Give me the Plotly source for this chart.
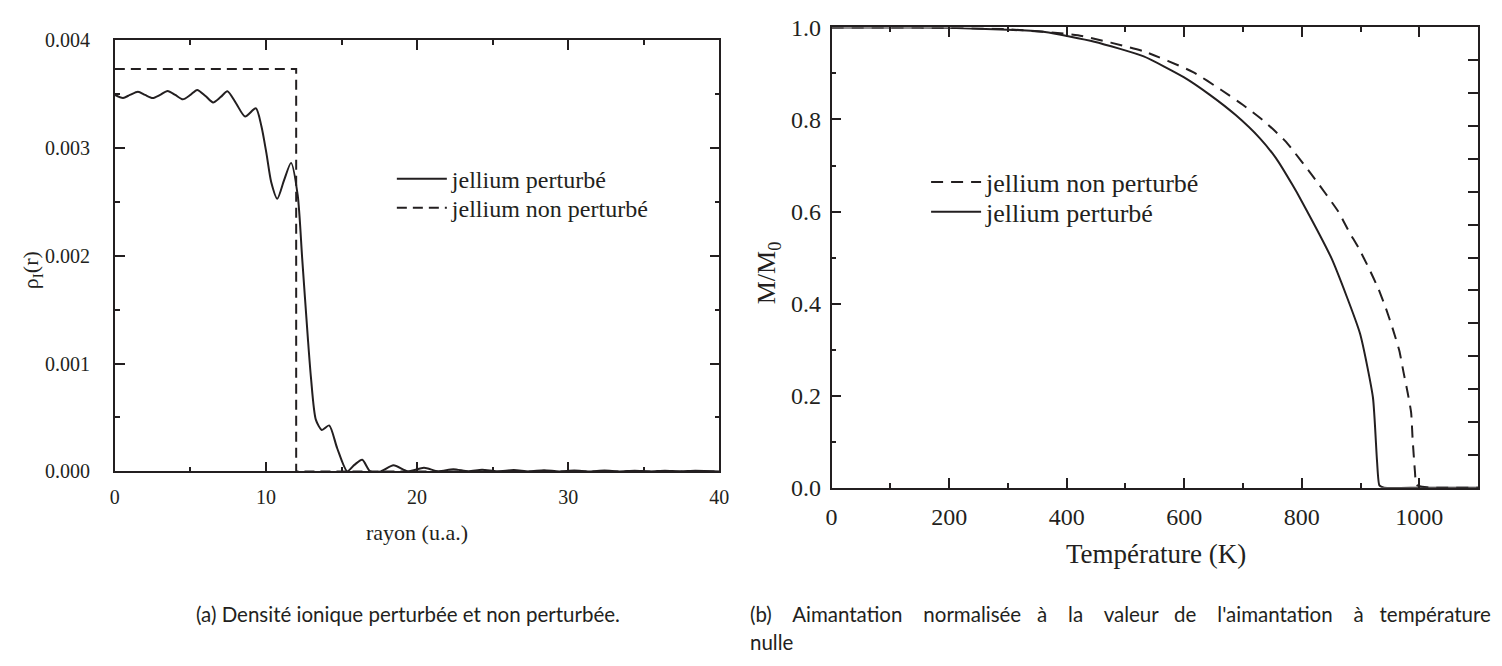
import plotly.graph_objects as go

# ---------------- data ----------------
# (a) ionic density vs radius
r_pert = [0.0, 0.54, 1.0, 1.53, 2.0, 2.5, 3.0, 3.49, 4.0, 4.5, 5.0, 5.45, 6.0, 6.5, 7.0, 7.45,
          8.03, 8.62, 9.33, 9.7, 10.03, 10.35, 10.75, 11.2, 11.66, 12.1, 12.4, 12.77, 12.98,
          13.3, 13.7, 14.18, 14.72, 15.38, 15.85, 16.37, 16.9, 17.6, 18.44, 19.4, 20.46,
          21.4, 22.4, 23.4, 24.3, 25.3, 26.4, 27.4, 28.4, 29.4, 30.4, 31.4, 32.4, 33.4,
          34.4, 35.4, 36.4, 37.4, 38.4, 40.0]
rho_pert = [0.00349, 0.003461, 0.00349, 0.00352, 0.00349, 0.003461, 0.00349, 0.003527,
            0.00349, 0.003449, 0.00349, 0.003536, 0.00348, 0.00342, 0.00347, 0.003524,
            0.00341, 0.00329, 0.003366, 0.00320, 0.00295, 0.00268, 0.002527, 0.00270,
            0.00286, 0.00256, 0.00197, 0.00124, 0.000866, 0.00048, 0.000384, 0.000426,
            0.000212, 0.0, 0.00006, 0.000107, 0.0, 0.0, 0.000056, 0.0, 0.000033,
            0.0, 0.00002, 0.0, 0.000015, 0.0, 0.000012, 0.0, 0.00001, 0.0, 0.000009, 0.0,
            0.000008, 0.0, 0.000007, 0.0, 0.000006, 0.0, 0.000005, 0.0]

r_nonpert = [0.0, 12.0, 12.0, 40.0]
rho_nonpert = [0.00373, 0.00373, 0.0, 0.0]

# (b) normalised magnetisation vs temperature
T_nonpert = [0, 100, 200, 300, 419, 531, 615, 663, 699.5, 737, 772, 818, 862, 880, 897,
             914, 930, 943, 955, 966, 973, 980, 986, 988.5, 992.4, 995, 1005, 1020, 1100]
M_nonpert = [1.0, 1.0, 0.999, 0.996, 0.983, 0.948, 0.903, 0.864, 0.832, 0.795, 0.753,
             0.678, 0.600, 0.557, 0.520, 0.477, 0.433, 0.390, 0.344, 0.297, 0.251, 0.207,
             0.163, 0.106, 0.036, 0.006, 0.002, 0.0, 0.0]

T_pert = [0, 100, 200, 300, 363, 447, 531, 599, 643, 688, 728, 756, 784, 800, 851, 899,
          921, 928, 932, 940, 1000, 1100]
M_pert = [1.0, 1.0, 0.999, 0.995, 0.99, 0.969, 0.937, 0.892, 0.854, 0.809, 0.760, 0.716,
          0.658, 0.622, 0.497, 0.335, 0.196, 0.057, 0.005, 0.0, 0.0, 0.0]

label_pert = "jellium perturbé"
label_nonpert = "jellium non perturbé"

caption_a = "(a) Densité ionique perturbée et non perturbée."
caption_b1 = "(b) Aimantation normalisée à la valeur de l'aimantation à température"
caption_b2 = "nulle"

# ---------------- figure ----------------
W, H = 1502, 666
INK = "#231f20"
SERIF = "Liberation Serif"
SANS = "Lato"


def fx(p):
    return p / W


def fy(p):
    return 1 - p / H


fig = go.Figure()

fig.add_trace(go.Scatter(x=r_pert, y=rho_pert, mode="lines", name=label_pert,
                         line=dict(color=INK, width=2, shape="spline", smoothing=0.7),
                         xaxis="x", yaxis="y", legend="legend"))
fig.add_trace(go.Scatter(x=r_nonpert, y=rho_nonpert, mode="lines", name=label_nonpert,
                         line=dict(color=INK, width=2, dash="10px,6px"),
                         xaxis="x", yaxis="y", legend="legend2"))

fig.add_trace(go.Scatter(x=T_nonpert, y=M_nonpert, mode="lines", name=label_nonpert,
                         line=dict(color=INK, width=2, dash="12px,8px", shape="spline",
                                   smoothing=0.5),
                         xaxis="x2", yaxis="y2", legend="legend3"))
fig.add_trace(go.Scatter(x=T_pert, y=M_pert, mode="lines", name=label_pert,
                         line=dict(color=INK, width=2, shape="spline", smoothing=0.5),
                         xaxis="x2", yaxis="y2", legend="legend4"))
# empty trace so the right-hand tick axis of panel (b) is drawn
fig.add_trace(go.Scatter(x=[], y=[], mode="lines", showlegend=False, hoverinfo="skip",
                         xaxis="x2", yaxis="y3"))

common = dict(showgrid=False, zeroline=False, showline=True, linecolor=INK, linewidth=1.6,
              ticks="inside", tickcolor=INK, tickwidth=1.5, ticklen=10)


def minor(d):
    return dict(dtick=d, ticks="inside", ticklen=5, tickcolor=INK, tickwidth=1.5)


def leg(xp, yp, size):
    return dict(x=fx(xp), y=fy(yp), xanchor="left", yanchor="middle", itemwidth=50,
                font=dict(family=SERIF, size=size, color=INK), bgcolor="rgba(0,0,0,0)",
                borderwidth=0)


fig.update_layout(
    width=W, height=H,
    margin=dict(l=0, r=0, t=0, b=0),
    paper_bgcolor="white", plot_bgcolor="white",
    font=dict(family=SERIF, color=INK),
    xaxis=dict(domain=[fx(110), fx(721)], range=[0, 40], dtick=10, tick0=0,
               mirror="ticks", anchor="y", minor=minor(5),
               tickfont=dict(family=SERIF, size=20), ticklabelstandoff=7, **common),
    yaxis=dict(domain=[fy(477), fy(28)], range=[0, 0.004], dtick=0.001, tick0=0,
               tickformat=".3f", mirror="ticks", anchor="x", minor=minor(0.0005),
               tickfont=dict(family=SERIF, size=20), ticklabelstandoff=19, **common),
    xaxis2=dict(domain=[fx(834.5), fx(1488)], range=[0, 1100], dtick=200, tick0=0,
                mirror="ticks", anchor="y2", minor=minor(100),
                tickfont=dict(family=SERIF, size=24), ticklabelstandoff=7, **common),
    yaxis2=dict(domain=[fy(494), fy(15)], range=[0, 1], dtick=0.2, tick0=0,
                tickformat=".1f", mirror=True, anchor="x2", minor=minor(0.1),
                tickfont=dict(family=SERIF, size=24), ticklabelstandoff=4, **common),
    yaxis3=dict(overlaying="y2", side="right", anchor="x2", range=[0, 1],
                tickmode="linear", tick0=0, dtick=1 / 14, showticklabels=False,
                showgrid=False, zeroline=False, showline=False,
                ticks="inside", ticklen=10, tickwidth=1.5, tickcolor=INK),
    legend=leg(390, 173, 24),
    legend2=leg(390, 203, 24),
    legend3=leg(930, 176, 26),
    legend4=leg(930, 207, 26),
    showlegend=True,
)

# widen the word gaps of the justified first line of caption (b)
words = caption_b1.split(" ")
extra = [3, 3, 2, 3, 3, 2, 3, 3, 2]
line_b1 = words[0]
for w, n in zip(words[1:], extra):
    line_b1 += " " + "\u00a0" * n + w

annotations = [
    dict(text="ρ<sub>I</sub>(r)", x=fx(26), y=fy(268), textangle=-90,
         font=dict(family=SERIF, size=22, color=INK)),
    dict(text="rayon (u.a.)", x=fx(415), y=fy(541),
         font=dict(family=SERIF, size=22, color=INK)),
    dict(text="M/M<sub>0</sub>", x=fx(771), y=fy(270), textangle=-90,
         font=dict(family=SERIF, size=26, color=INK)),
    dict(text="Température (K)", x=fx(1162), y=fy(563),
         font=dict(family=SERIF, size=27, color=INK)),
    dict(text=caption_a, x=fx(406), y=fy(625),
         font=dict(family=SANS, size=20.5, color=INK)),
    dict(text=line_b1, x=fx(750), y=fy(625), xanchor="left",
         font=dict(family=SANS, size=20.5, color=INK)),
    dict(text=caption_b2, x=fx(750), y=fy(655), xanchor="left",
         font=dict(family=SANS, size=20.5, color=INK)),
]
for a in annotations:
    a.setdefault("xanchor", "center")
    a.update(xref="paper", yref="paper", yanchor="middle", showarrow=False)
fig.update_layout(annotations=annotations)

fig.write_html("out.html")
